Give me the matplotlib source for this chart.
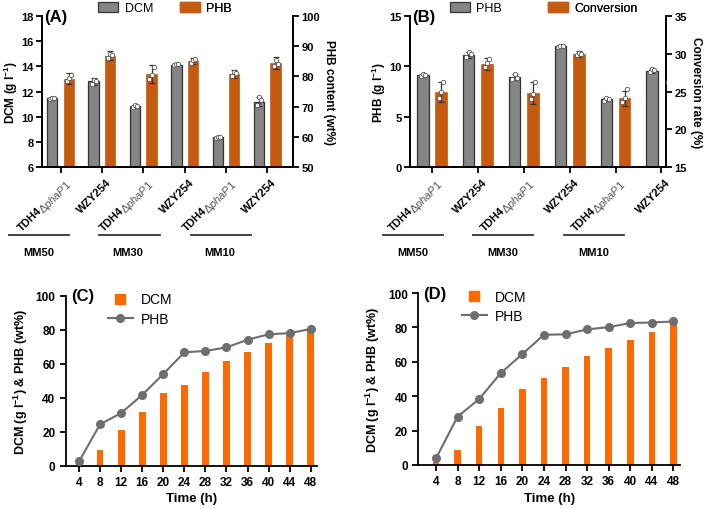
import numpy as np
import matplotlib
matplotlib.use("Agg")
import matplotlib.pyplot as plt
from matplotlib.patches import Patch
from matplotlib.lines import Line2D

plt.rcParams['font.family'] = ['Liberation Sans', 'DejaVu Sans']
plt.rcParams['mathtext.fontset'] = 'custom'
plt.rcParams['mathtext.rm'] = 'Liberation Sans'
plt.rcParams['mathtext.it'] = 'Liberation Sans:italic'
plt.rcParams['mathtext.bf'] = 'Liberation Sans:bold'

# ---------------- data ----------------
strains = ["TDH4", "WZY254", "TDH4", "WZY254", "TDH4", "WZY254"]
groups = ["MM50", "MM30", "MM10"]

a_dcm = [11.45, 12.8, 10.85, 14.13, 8.35, 11.2]
a_dcm_err = [0.1, 0.25, 0.1, 0.08, 0.1, 0.35]
a_dcm_reps = [[11.4, 11.5, 11.45], [12.6, 12.95, 12.85], [10.8, 10.9, 10.85],
              [14.1, 14.2, 14.15], [8.3, 8.4, 8.35], [10.9, 11.55, 11.3]]
a_phb = [79.3, 86.8, 80.9, 85.2, 80.7, 84.4]
a_phb_err = [1.8, 1.5, 3.0, 1.0, 1.3, 2.0]
a_phb_reps = [[78.5, 79.5, 80.5], [86.0, 87.5, 87.0], [79.0, 80.5, 83.0],
              [84.5, 85.3, 85.8], [80.0, 81.3, 81.0], [83.5, 85.5, 84.2]]

b_phb = [9.1, 11.1, 8.9, 12.0, 6.73, 9.57]
b_phb_err = [0.15, 0.3, 0.3, 0.1, 0.15, 0.2]
b_phb_reps = [[9.0, 9.2, 9.1], [10.9, 11.4, 11.2], [8.7, 9.2, 8.8],
              [11.9, 12.05, 12.0], [6.6, 6.85, 6.75], [9.4, 9.75, 9.6]]
b_conv = [24.9, 28.7, 24.8, 30.0, 24.1, 26.4]
b_conv_err = [1.3, 0.8, 1.5, 0.4, 1.0, 0.3]
b_conv_reps = [[24.2, 24.9, 26.2], [28.2, 28.8, 29.3], [24.0, 24.7, 26.2],
               [29.8, 30.1, 30.0], [23.6, 24.1, 25.3], [26.2, 26.5, 26.5]]

time_h = ["4", "8", "12", "16", "20", "24", "28", "32", "36", "40", "44", "48"]
c_dcm = [1.0, 9.2, 21.2, 31.8, 42.7, 47.5, 54.9, 61.8, 67.1, 72.2, 78.4, 80.8]
c_phb = [2.5, 24.3, 31.0, 41.6, 53.9, 66.7, 67.5, 69.6, 74.1, 77.3, 78.0, 80.4]
d_dcm = [1.9, 8.9, 22.5, 32.9, 44.2, 50.6, 57.2, 63.4, 68.2, 72.9, 77.1, 83.5]
d_phb = [3.9, 28.1, 38.4, 53.5, 64.5, 75.8, 76.0, 78.9, 80.2, 82.6, 82.9, 83.5]

GRAY = "#858585"
BURNT = "#C55A11"
ORANGE = "#FF6A00"
LINEGRAY = "#6E6E6E"

fig = plt.figure(figsize=(7.09, 5.10), dpi=100)
renderer = fig.canvas.get_renderer()


def text_width_pt(s, **kw):
    t = fig.text(0, 0, s, **kw)
    w = t.get_window_extent(renderer).width
    t.remove()
    return w * 72.0 / fig.dpi


def bar_panel(rect, left_vals, left_err, left_reps, right_vals, right_err, right_reps,
              left_lim, left_ticks, right_lim, right_ticks, ylabel, rlabel,
              legend_names, legend_x, panel, xlim, line_spans, glabel_x):
    ax = fig.add_axes(rect)
    ax2 = ax.twinx()
    x = np.arange(len(left_vals))
    w = 0.25
    off = 0.2
    ax.bar(x - off, left_vals, w, color=GRAY, edgecolor="#333333", linewidth=0.9, zorder=2)
    ax.errorbar(x - off, left_vals, yerr=left_err, fmt="none", ecolor="#333333",
                elinewidth=0.9, capsize=2.5, capthick=0.9, zorder=3)
    for i, reps in enumerate(left_reps):
        ax.scatter([i - off - 0.05, i - off, i - off + 0.05], reps, s=10, facecolor="white",
                   edgecolor="#555555", linewidth=0.6, zorder=4)
    ax2.bar(x + off, right_vals, w, color=BURNT, edgecolor=BURNT, linewidth=0.5, zorder=2)
    ax2.errorbar(x + off, right_vals, yerr=right_err, fmt="none", ecolor="#333333",
                 elinewidth=0.9, capsize=2.5, capthick=0.9, zorder=3)
    for i, reps in enumerate(right_reps):
        ax2.scatter([i + off - 0.05, i + off, i + off + 0.05], reps, s=10, facecolor="white",
                    edgecolor="#555555", linewidth=0.6, zorder=4)
    ax.set_xlim(*xlim)
    ax.set_ylim(*left_lim)
    ax.set_yticks(left_ticks)
    ax2.set_ylim(*right_lim)
    ax2.set_yticks(right_ticks)
    for a in (ax, ax2):
        a.spines["top"].set_visible(False)
        for s in a.spines.values():
            s.set_linewidth(1.3)
        a.tick_params(width=1.3, length=4, labelsize=8, pad=2)
        for lab in a.get_yticklabels():
            lab.set_fontweight("bold")
    ax.set_xticks(x)
    ax.set_xticklabels([])
    ax.set_ylabel(ylabel, fontsize=8.5, fontweight="bold", labelpad=1)
    ax2.set_ylabel(rlabel, fontsize=8.5, fontweight="bold", rotation=270, labelpad=11)

    # strain labels
    for i, s in enumerate(strains):
        if s == "TDH4":
            tail = r"$\Delta\mathit{phaP1}$"
            wpt = text_width_pt(tail, fontsize=8)
            ax.annotate(tail, xy=(i, 0), xycoords=("data", "axes fraction"),
                        xytext=(3, -7), textcoords="offset points", rotation=45,
                        rotation_mode="anchor", ha="right", va="top", fontsize=8,
                        color="#555555", annotation_clip=False)
            d = 0.975 * wpt / np.sqrt(2)
            ax.annotate("TDH4", xy=(i, 0), xycoords=("data", "axes fraction"),
                        xytext=(3 - d, -7 - d), textcoords="offset points", rotation=45,
                        rotation_mode="anchor", ha="right", va="top", fontsize=8,
                        fontweight="bold", annotation_clip=False)
        else:
            ax.annotate(s, xy=(i, 0), xycoords=("data", "axes fraction"),
                        xytext=(3, -7), textcoords="offset points", rotation=45,
                        rotation_mode="anchor", ha="right", va="top", fontsize=8,
                        fontweight="bold", annotation_clip=False)
    for (x0, x1), gx, g in zip(line_spans, glabel_x, groups):
        ax.plot([x0, x1], [-0.45, -0.45], transform=ax.get_xaxis_transform(),
                color="#333333", lw=1.3, clip_on=False)
        ax.text(gx, -0.53, g, transform=ax.get_xaxis_transform(), ha="center",
                va="top", fontsize=8, fontweight="bold")

    handles = [Patch(facecolor=GRAY, edgecolor="#333333", linewidth=0.9),
               Patch(facecolor=BURNT, edgecolor=BURNT)]
    for hx, h, name in zip(legend_x, handles, legend_names):
        lg = ax.legend([h], [name], loc="lower left", bbox_to_anchor=(hx, 0.97),
                       frameon=False, fontsize=9, handlelength=1.6, handleheight=0.8,
                       borderpad=0, handletextpad=0.5)
        ax.add_artist(lg)
    ax.text(0.01, 1.0, panel, transform=ax.transAxes, fontsize=12, fontweight="bold",
            ha="left", va="center")
    return ax


bar_panel([0.0592, 0.6706, 0.354, 0.296], a_dcm, a_dcm_err, a_dcm_reps,
          a_phb, a_phb_err, a_phb_reps, (6, 18), [6, 8, 10, 12, 14, 16, 18],
          (50, 100), [50, 60, 70, 80, 90, 100],
          r"DCM (g l$^{\mathbf{-1}}$)", "PHB content (wt%)",
          ["DCM", "PHB"], [0.2, 0.525], "(A)", (-0.45, 5.62),
          [(-1.25, 0.2), (0.93, 2.4), (3.16, 4.6)], [-0.53, 1.63, 3.86])

bar_panel([0.5783, 0.6706, 0.361, 0.296], b_phb, b_phb_err, b_phb_reps,
          b_conv, b_conv_err, b_conv_reps, (0, 15), [0, 5, 10, 15],
          (15, 35), [15, 20, 25, 30, 35],
          r"PHB (g l$^{\mathbf{-1}}$)", "Conversion rate (%)",
          ["PHB", "Conversion"], [0.13, 0.515], "(B)", (-0.48, 5.1),
          [(-1.07, 0.24), (0.9, 2.2), (2.88, 4.18)], [-0.42, 1.55, 3.53])


def time_panel(rect, dcm, phb, panel, xlim, bw, leg_x):
    ax = fig.add_axes(rect)
    x = np.arange(len(time_h))
    ax.bar(x, dcm, bw, color=ORANGE, zorder=2, label="DCM")
    line, = ax.plot(x, phb, "-o", color=LINEGRAY, lw=1.5, ms=5.5, zorder=3, label="PHB")
    ax.set_xlim(*xlim)
    ax.set_ylim(0, 100)
    ax.set_yticks([0, 20, 40, 60, 80, 100])
    ax.set_xticks(x)
    ax.set_xticklabels(time_h)
    for s in ["top", "right"]:
        ax.spines[s].set_visible(False)
    for s in ["left", "bottom"]:
        ax.spines[s].set_linewidth(1.3)
    ax.tick_params(width=1.3, length=4, labelsize=8.5)
    for lab in ax.get_xticklabels() + ax.get_yticklabels():
        lab.set_fontweight("bold")
    ax.set_xlabel("Time (h)", fontsize=9.5, fontweight="bold", labelpad=3)
    ax.set_ylabel(r"DCM (g l$^{\mathbf{-1}}$) & PHB (wt%)", fontsize=9, fontweight="bold")
    ax.text(0.02, 1.0, panel, transform=ax.transAxes, fontsize=12, fontweight="bold",
            ha="left", va="center")
    sq = Line2D([], [], marker="s", color=ORANGE, ls="none", ms=6.5)
    ax.legend([sq, line], ["DCM", "PHB"], loc="upper left", bbox_to_anchor=(leg_x, 1.06),
              frameon=False, fontsize=10, handlelength=1.8,
              handletextpad=0.6, labelspacing=0.4, borderpad=0)
    return ax


time_panel([0.0927, 0.0849, 0.3545, 0.3333], c_dcm, c_phb, "(C)", (-0.63, 11.3), 0.32, 0.14)
time_panel([0.59, 0.0863, 0.369, 0.337], d_dcm, d_phb, "(D)", (-0.82, 11.3), 0.3, 0.14)

fig.savefig("out.png", dpi=100)
